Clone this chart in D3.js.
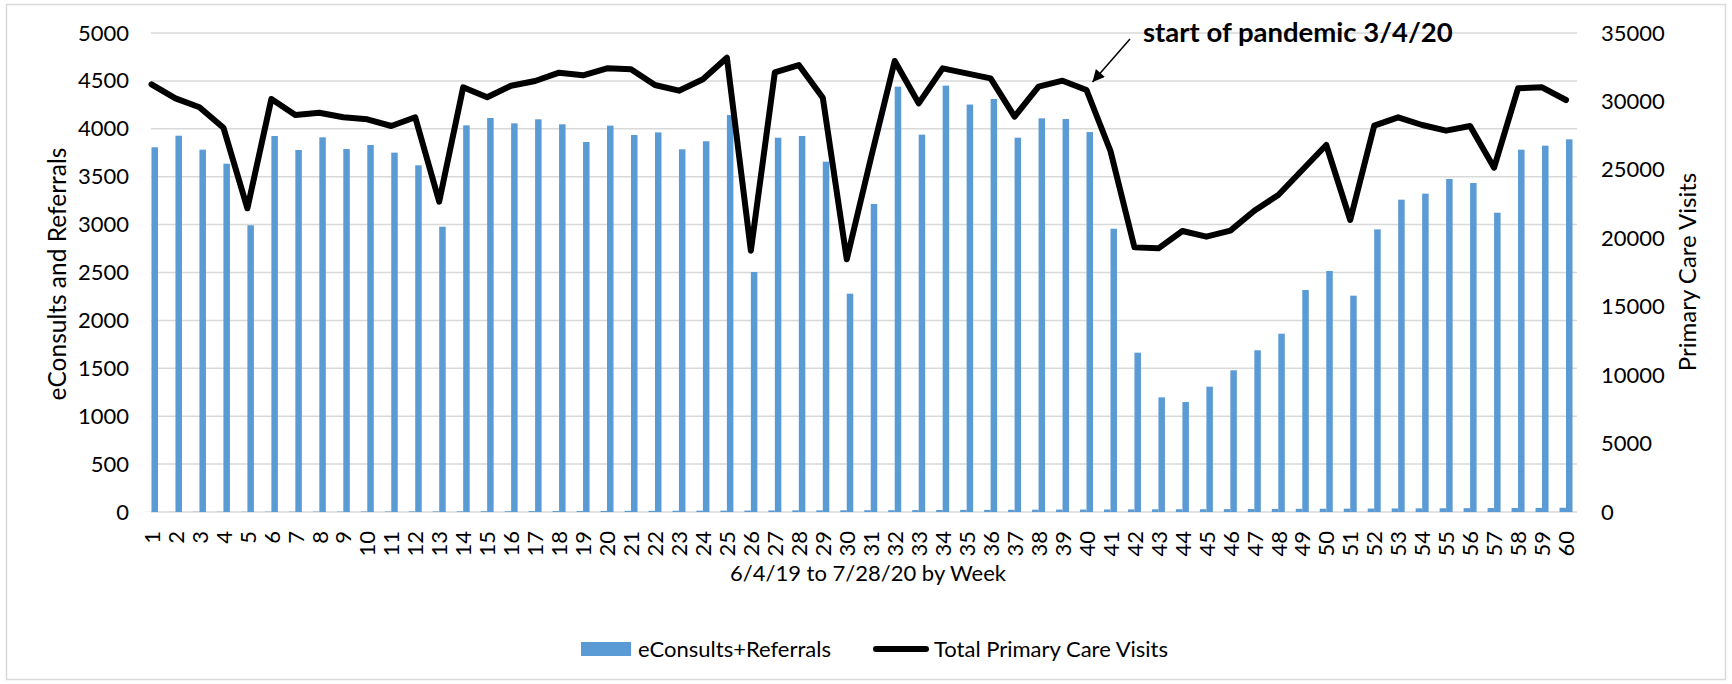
<!DOCTYPE html>
<html>
<head>
<meta charset="utf-8">
<script src="https://cdn.jsdelivr.net/npm/d3@7/dist/d3.min.js"></script>
<style>
body{ margin:0; background:#ffffff; }
svg text{ font-family: Lato, "Noto Sans", sans-serif; fill:#000000; }
</style>
</head>
<body>
<svg id="chart" width="1732" height="684"></svg>
<script>

const week_labels = [1,2,3,4,5,6,7,8,9,10,11,12,13,14,15,16,17,18,19,20,
	21,22,23,24,25,26,27,28,29,30,31,32,33,34,35,36,37,38,39,40,
	41,42,43,44,45,46,47,48,49,50,51,52,53,54,55,56,57,58,59,60];

// unnamed small series that sits left of every blue bar
const small_bars = [1,1,2,2,2,3,3,4,4,5,
	5,6,6,7,8,8,9,10,10,11,
	12,12,13,14,14,15,16,17,17,18,
	19,19,20,21,22,22,23,24,25,25,
	26,27,28,29,29,30,31,32,33,34,
	35,36,37,38,39,40,41,42,43,44];

const consults_referrals = [3807,3928,3782,3636,2993,3925,3779,3911,3789,3831,
	3751,3619,2978,4036,4113,4057,4099,4047,3862,4033,
	3935,3963,3786,3870,4144,2505,3907,3925,3657,2279,
	3215,4440,3939,4451,4253,4311,3907,4109,4102,3966,
	2957,1663,1197,1148,1308,1479,1688,1861,2317,2516,
	2258,2950,3260,3323,3476,3434,3124,3782,3824,3890];

const primary_care_visits = [31250,30227,29570,28081,22191,30177,29008,29176,28840,28694,
	28204,28840,22674,31030,30300,31150,31493,32101,31906,32417,
	32344,31200,30786,31615,33196,19092,32126,32660,30274,18461,
	25800,32953,29861,32417,32052,31687,28884,31077,31515,30835,
	26378,19336,19263,20532,20118,20556,22017,23163,24990,26816,
	21336,28230,28840,28278,27864,28205,25160,30957,31030,30104];

const left_ticks = [0,500,1000,1500,2000,2500,3000,3500,4000,4500,5000];
const right_ticks = [0,5000,10000,15000,20000,25000,30000,35000];

const left_title = 'eConsults and Referrals';
const right_title = 'Primary Care Visits';
const x_title = '6/4/19 to 7/28/20 by Week';
const note_text = 'start of pandemic 3/4/20';
const note_week = 40;
const legend_names = ['eConsults+Referrals','Total Primary Care Visits'];

const bar_color = '#5b9bd5';
const grid_color = '#d9d9d9';

const plot_left = 151, plot_right = 1577, plot_top = 33, plot_bottom = 512;
const bar_w = 6.5;

const svg = d3.select('#chart');

svg.append('rect')
	.attr('x',6.5).attr('y',4.5)
	.attr('width',1719).attr('height',675)
	.attr('fill','#ffffff')
	.attr('stroke',grid_color)
	.attr('stroke-width',1.5)

const x = d3.scalePoint().domain(week_labels).range([151.5,1566]);
const y_left = d3.scaleLinear().domain([0,5000]).range([plot_bottom,plot_top]);
const y_right = d3.scaleLinear().domain([0,35000]).range([plot_bottom,plot_top]);

// gridlines
svg.append('g').selectAll('line')
		.data(left_ticks)
		.enter()
	.append('line')
		.attr('x1',plot_left).attr('x2',plot_right)
		.attr('y1',d => y_left(d)).attr('y2',d => y_left(d))
		.attr('stroke',grid_color)
		.attr('stroke-width',1.5)

const style_axis = function(g,size){
	g.select('.domain').remove();
	g.selectAll('text')
		.attr('font-size',size)
		.attr('font-family','Lato, "Noto Sans", sans-serif')
		.attr('fill','#000000');
}

svg.append('g')
	.attr('transform',`translate(${plot_left},0)`)
	.call(d3.axisLeft(y_left).tickValues(left_ticks).tickSize(0).tickPadding(22).tickFormat(d3.format('d')))
	.call(g => style_axis(g,22))

svg.append('g')
	.attr('transform',`translate(${plot_right},0)`)
	.call(d3.axisRight(y_right).tickValues(right_ticks).tickSize(0).tickPadding(24).tickFormat(d3.format('d')))
	.call(g => style_axis(g,22))

svg.append('g')
	.attr('transform',`translate(0,${plot_bottom})`)
	.call(d3.axisBottom(x).tickSize(0))
	.call(g => style_axis(g,22))
	.selectAll('text')
		.attr('transform','rotate(-90)')
		.attr('text-anchor','end')
		.attr('x',-19)
		.attr('y',0)
		.attr('dy','.35em')

// bars
svg.append('g').selectAll('rect')
		.data(small_bars.map((v,i) => ({week:week_labels[i], v:v})))
		.enter()
	.append('rect')
		.attr('x',d => x(d.week) - bar_w)
		.attr('y',d => y_left(d.v))
		.attr('width',bar_w)
		.attr('height',d => plot_bottom - y_left(d.v))
		.attr('fill',bar_color)

svg.append('g').selectAll('rect')
		.data(consults_referrals.map((v,i) => ({week:week_labels[i], v:v})))
		.enter()
	.append('rect')
		.attr('x',d => x(d.week))
		.attr('y',d => y_left(d.v))
		.attr('width',bar_w)
		.attr('height',d => plot_bottom - y_left(d.v))
		.attr('fill',bar_color)

// line
const visit_line = d3.line()
	.x(d => x(d.week))
	.y(d => y_right(d.v));

svg.append('path')
	.datum(primary_care_visits.map((v,i) => ({week:week_labels[i], v:v})))
	.attr('d',visit_line)
	.attr('fill','none')
	.attr('stroke','#000000')
	.attr('stroke-width',6)
	.attr('stroke-linejoin','round')
	.attr('stroke-linecap','round')

// axis titles
svg.append('text')
	.attr('transform','translate(57,274) rotate(-90)')
	.attr('text-anchor','middle')
	.attr('dy','.35em')
	.attr('font-size',24.5)
	.text(left_title)

svg.append('text')
	.attr('transform','translate(1688,272) rotate(-90)')
	.attr('text-anchor','middle')
	.attr('dy','.35em')
	.attr('font-size',24)
	.text(right_title)

svg.append('text')
	.attr('x',868)
	.attr('y',573)
	.attr('text-anchor','middle')
	.attr('dy','.35em')
	.attr('font-size',22)
	.text(x_title)

// annotation
svg.append('defs').append('marker')
		.attr('id','arrow-head')
		.attr('viewBox','0 0 10 10')
		.attr('refX',10).attr('refY',5)
		.attr('markerUnits','userSpaceOnUse')
		.attr('markerWidth',15).attr('markerHeight',12)
		.attr('orient','auto')
	.append('path')
		.attr('d','M0,0L10,5L0,10Z')
		.attr('fill','#000000')

const tip_x = x(note_week) + 6, tip_y = y_right(primary_care_visits[note_week-1]) - 8;
svg.append('line')
	.attr('x1',1130).attr('y1',39)
	.attr('x2',tip_x).attr('y2',tip_y)
	.attr('stroke','#000000')
	.attr('stroke-width',1.5)
	.attr('marker-end','url(#arrow-head)')

svg.append('text')
	.attr('x',1143)
	.attr('y',42)
	.attr('font-size',27.5)
	.attr('font-weight','bold')
	.text(note_text)

// legend
const legend = svg.append('g').attr('transform','translate(0,649)');
legend.append('rect')
	.attr('x',581).attr('y',-7)
	.attr('width',50).attr('height',14)
	.attr('fill',bar_color)
legend.append('text')
	.attr('x',638).attr('dy','.35em')
	.attr('font-size',22)
	.text(legend_names[0])
legend.append('line')
	.attr('x1',876).attr('x2',926)
	.attr('y1',0).attr('y2',0)
	.attr('stroke','#000000')
	.attr('stroke-width',6)
	.attr('stroke-linecap','round')
legend.append('text')
	.attr('x',934).attr('dy','.35em')
	.attr('font-size',22)
	.text(legend_names[1])

</script>
</body>
</html>
